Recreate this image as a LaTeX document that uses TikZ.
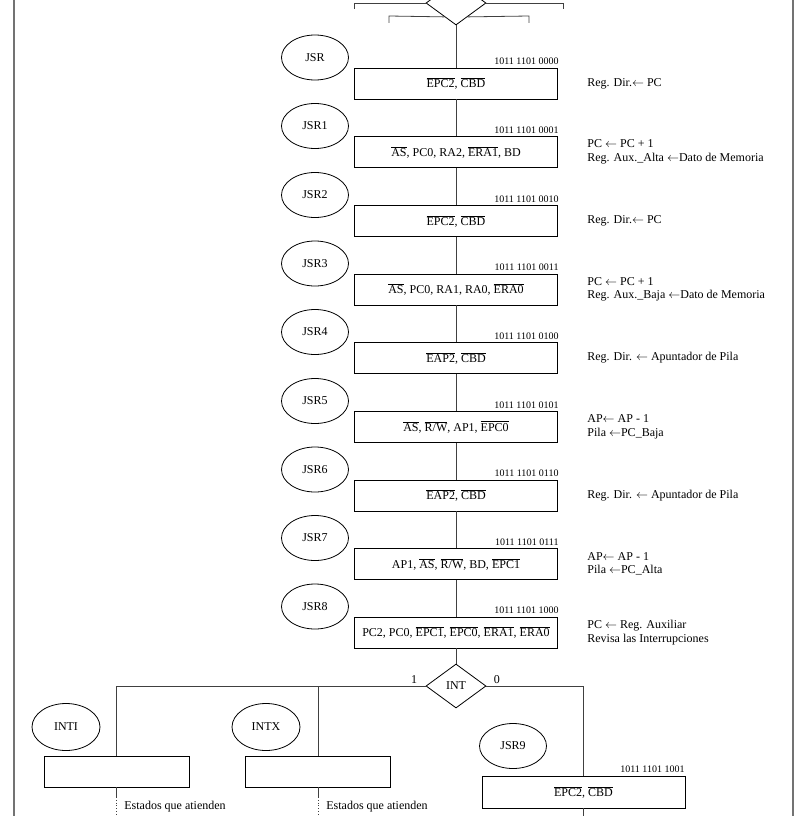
\documentclass[tikz,border=0pt]{standalone}
\usepackage{fontspec}
\setmainfont{Liberation Serif}
\usetikzlibrary{shapes.geometric,calc}
\newcommand{\negado}[1]{$\overline{\mbox{#1}}$}
\newcommand{\izq}{$\leftarrow$}
\tikzset{
    ST/.style ={ellipse, draw, minimum width=67pt, minimum height=45pt, inner sep=0pt},
    SI/.style ={ellipse, draw, minimum width=68pt, minimum height=47pt, inner sep=0pt},
    BX/.style ={rectangle, draw, minimum width=203pt, minimum height=31pt, inner sep=0pt},
    BI/.style ={rectangle, draw, minimum width=145pt, minimum height=31pt, inner sep=0pt},
    DI/.style ={diamond, draw, minimum width=60pt, minimum height=44pt, inner sep=0pt},
    CD/.style ={anchor=east, inner sep=0pt, font=\fontsize{10}{11}\selectfont},
    NT/.style ={anchor=west, align=left, inner sep=0pt, font=\fontsize{12}{13.5}\selectfont},
    LN/.style ={draw=black!75}}

\begin{document}
\begin{tikzpicture}[x=1pt, y=-1pt, font=\fontsize{12}{12.5}\selectfont, line width=0.8pt]
    \useasboundingbox (0,0) rectangle (805,816);
    \clip (0,0) rectangle (805,816);
    % marco
    \draw[black!55, line width=1.6pt] (14,0) -- (14,816);
    \draw[black!55, line width=1.6pt] (793,0) -- (793,816);
    % rama que llega desde arriba
    \node[DI] (d0) at (456,3) {};
    \draw[LN] (d0.west) -- ++(-71,0) -- ++(0,6);
    \draw[LN] (d0.east) -- ++(77,0) -- ++(0,6);
    \draw[LN] ($(d0.west)!0.62!(d0.south)$) -- (389,16) -- (389,23);
    \draw[LN] ($(d0.east)!0.62!(d0.south)$) -- (529,16) -- (529,23);
    % JSR
    \node[ST] (s0) at (315,57.5) {JSR};
    \node[BX] (b0) at (456,83.5) {\negado{EPC2}, \negado{CBD}};
    \node[CD] (c0) at (559,61.5) {1011 1101 0000};
    \node[NT] (n0) at (587,83.5) {Reg. Dir.\izq{} PC};
    % JSR1
    \node[ST] (s1) at (315,126) {JSR1};
    \node[BX] (b1) at (456,152) {\negado{AS}, PC0, RA2, \negado{ERA1}, BD};
    \node[CD] (c1) at (559,130) {1011 1101 0001};
    \node[NT] (n1) at (587,152) {PC \izq{} PC + 1\\Reg. Aux.\_Alta \izq{}Dato de Memoria};
    % JSR2
    \node[ST] (s2) at (315,195) {JSR2};
    \node[BX] (b2) at (456,221) {\negado{EPC2}, \negado{CBD}};
    \node[CD] (c2) at (559,199) {1011 1101 0010};
    \node[NT] (n2) at (587,221) {Reg. Dir.\izq{} PC};
    % JSR3
    \node[ST] (s3) at (315,263.5) {JSR3};
    \node[BX] (b3) at (456,289.5) {\negado{AS}, PC0, RA1, RA0, \negado{ERA0}};
    \node[CD] (c3) at (559,267.5) {1011 1101 0011};
    \node[NT] (n3) at (587,289.5) {PC \izq{} PC + 1\\Reg. Aux.\_Baja \izq{}Dato de Memoria};
    % JSR4
    \node[ST] (s4) at (315,332) {JSR4};
    \node[BX] (b4) at (456,358) {\negado{EAP2}, \negado{CBD}};
    \node[CD] (c4) at (559,336) {1011 1101 0100};
    \node[NT] (n4) at (587,358) {Reg. Dir. \izq{} Apuntador de Pila};
    % JSR5
    \node[ST] (s5) at (315,401) {JSR5};
    \node[BX] (b5) at (456,427) {\negado{AS}, \negado{R/W}, AP1, \negado{EPC0}};
    \node[CD] (c5) at (559,405) {1011 1101 0101};
    \node[NT] (n5) at (587,427) {AP\izq{} AP - 1\\Pila \izq{}PC\_Baja};
    % JSR6
    \node[ST] (s6) at (315,469.5) {JSR6};
    \node[BX] (b6) at (456,495.5) {\negado{EAP2}, \negado{CBD}};
    \node[CD] (c6) at (559,473.5) {1011 1101 0110};
    \node[NT] (n6) at (587,495.5) {Reg. Dir. \izq{} Apuntador de Pila};
    % JSR7
    \node[ST] (s7) at (315,538) {JSR7};
    \node[BX] (b7) at (456,564) {AP1, \negado{AS}, \negado{R/W}, BD, \negado{EPC1}};
    \node[CD] (c7) at (559,542) {1011 1101 0111};
    \node[NT] (n7) at (587,564) {AP\izq{} AP - 1\\Pila \izq{}PC\_Alta};
    % JSR8
    \node[ST] (s8) at (315,606.5) {JSR8};
    \node[BX] (b8) at (456,632.5) {PC2, PC0, \negado{EPC1}, \negado{EPC0}, \negado{ERA1}, \negado{ERA0}};
    \node[CD] (c8) at (559,610.5) {1011 1101 1000};
    \node[NT] (n8) at (587,632.5) {PC \izq{} Reg. Auxiliar\\Revisa las Interrupciones};
    % linea principal
    \draw[LN] (d0.south) -- (b0.north);
    \foreach \i [count=\j] in {0,...,7}
        \draw[LN] (b\i.south) -- (b\j.north);
    % INT
    \node[DI] (int) at (456,686) {INT};
    \node[anchor=south east, inner sep=2pt, xshift=-6pt] (uno) at (int.west) {1};
    \node[anchor=south west, inner sep=2pt, xshift=5pt] (cero) at (int.east) {0};
    \draw[LN] (b8.south) -- (int.north);
    % interrupciones
    \node[SI] (sI) at (66,727) {INTI};
    \node[BI] (bI) at (116.5,771.5) {};
    \node[SI] (sX) at (266,727) {INTX};
    \node[BI] (bX) at (318,771.5) {};
    \draw[LN] (int.west) -| (bI.north);
    \draw[LN] (bX.north) |- (int.west);
    \coordinate (eI) at (116.5,797);
    \coordinate (eX) at (318,797);
    \draw[LN] (bI.south) -- (eI);
    \draw[LN, dotted] (eI) -- ++(0,19);
    \draw[LN] (bX.south) -- (eX);
    \draw[LN, dotted] (eX) -- ++(0,19);
    \node[NT] (tI) at (124,807) {Estados que atienden};
    \node[NT] (tX) at (326,807) {Estados que atienden};
    % JSR9
    \node[ST] (s9) at (513,746) {JSR9};
    \node[BX, minimum height=32pt] (b9) at (583.5,792) {\negado{EPC2}, \negado{CBD}};
    \node[CD] (c9) at (685,769) {1011 1101 1001};
    \coordinate (e9) at (583.5,816);
    \draw[LN] (int.east) -| (b9.north);
    \draw[LN] (b9.south) -- (e9);
\end{tikzpicture}
\end{document}
